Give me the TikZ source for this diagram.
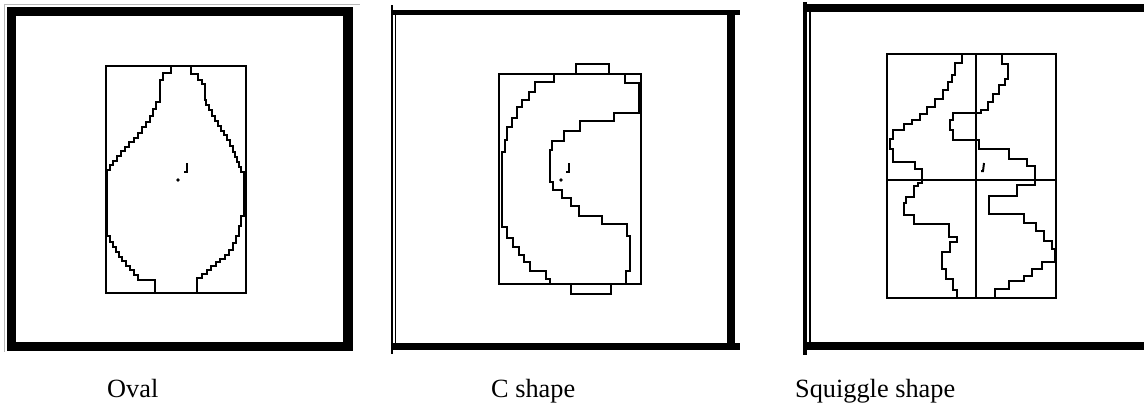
\documentclass[tikz,border=0pt]{standalone}
\usepackage{fontspec}
\setmainfont{Liberation Serif}
\begin{document}
\begin{tikzpicture}[x=1pt,y=-1pt,
  outline/.style={line width=2.6pt},
  centremark/.style={line width=2pt},
  caption/.style={anchor=base west,inner sep=0pt,font=\fontsize{26.3}{30}\selectfont}]
  \useasboundingbox (0,0) rectangle (1144,402);
  % frames
  \draw[gray!55,line width=0.8pt] (4,4) -- (360,4);
  \draw[gray!55,line width=0.8pt] (4,4) -- (4,352);
  \draw[line width=9.5pt] (11.5,11.5) rectangle (348,346.5);
  \draw[line width=5pt] (392,12.5) -- (740,12.5);
  \draw[line width=7pt] (392,346.5) -- (740,346.5);
  \draw[line width=8pt] (731,10) -- (731,350);
  \draw[line width=1.5pt] (392,5) -- (392,354);
  \draw[line width=1.5pt] (395.5,10) -- (395.5,350);
  \draw[line width=8pt] (803,8) -- (1144,8);
  \draw[line width=8pt] (803,346) -- (1144,346);
  \draw[line width=3.5pt] (805,2) -- (805,355);
  \draw[line width=1.5pt] (810,8) -- (810,346);
  % oval
  \draw[outline] (106,66) rectangle (246,293);
  \draw[outline] (171,66) |- (163,73) |- (160,80) |- (156,102) |- (153,109) |- (150,116) |- (146,122)
    |- (142,127) |- (138,133) |- (134,138) |- (129,142) |- (125,147) |- (121,151) |- (117,156)
    |- (113,161) |- (110,165) |- (107,170) |- (110,236) |- (113,242) |- (116,247) |- (119,252)
    |- (122,257) |- (126,261) |- (130,266) |- (134,270) |- (138,275) |- (155,280) -- (155,293);
  \draw[outline] (191,66) |- (198,74) |- (202,80) |- (205,84) |- (206,100) |- (209,105) |- (212,110)
    |- (215,116) |- (218,121) |- (221,126) |- (224,131) |- (227,135) |- (230,140) |- (233,146)
    |- (235,152) |- (237,157) |- (239,162) |- (241,167) |- (244,172) |- (241,216) |- (239,226)
    |- (236,236) |- (233,243) |- (229,250) |- (225,255) |- (220,259) |- (216,262) |- (211,266)
    |- (207,270) |- (202,274) |- (197,278) -- (197,293);
  \draw[centremark] (187,163) -- (187,172) -- (184,172);
  \fill (178,180) circle (1.8);
  % C shape
  \draw[outline] (499,74) rectangle (641,284);
  \draw[outline] (554,74) -- (576,74) -- (576,64) -- (609,64) -- (609,74) -- (625,74) |- (639,83)
    |- (614,113) |- (580,121) |- (564,131) |- (552,141) |- (550,150) |- (553,182) |- (562,190)
    |- (571,198) |- (579,206) |- (602,216) |- (627,224) |- (630,236) |- (626,271) -- (626,284)
    -- (611,284) -- (611,294) -- (571,294) -- (571,284) -- (550,284) |- (546,279) |- (530,271)
    |- (524,262) |- (519,255) |- (513,247) |- (507,238) |- (502,227) |- (505,152) |- (507,140)
    |- (512,127) |- (517,118) |- (522,107) |- (529,100) |- (535,92) |- (554,82) -- cycle;
  \draw[centremark] (569,163) -- (569,172) -- (566,172);
  \fill (561,180) circle (1.8);
  % squiggle
  \draw[outline] (887,54) rectangle (1056,298);
  \draw[outline] (976,54) -- (976,298);
  \draw[outline] (887,180) -- (1056,180);
  \draw[outline] (962,55) |- (955,63) |- (952,75) |- (948,82) |- (943,90) |- (935,99) |- (927,107)
    |- (920,114) |- (912,120) |- (904,124) |- (893,130) |- (890,139) |- (893,149) |- (915,162)
    |- (922,169) |- (918,183) |- (914,186) |- (906,197) |- (904,203) |- (914,215) |- (949,224)
    |- (957,237) |- (950,242) |- (942,252) |- (946,269) |- (953,279) |- (957,290) -- (957,298);
  \draw[outline] (1002,55) |- (1008,64) |- (1005,79) |- (999,85) |- (993,94) |- (988,102) |- (981,110)
    |- (953,113) |- (950,120) |- (953,130) |- (979,140) |- (1009,149) |- (1027,159) |- (1035,166)
    |- (1017,185) |- (989,196) |- (1024,214) |- (1036,223) |- (1044,231) |- (1052,241) |- (1055,249)
    |- (1042,262) |- (1032,269) |- (1024,276) |- (1009,281) |- (995,289) -- (995,298);
  \draw[centremark] (984,163) -- (983,171) -- (981,171);
  % captions
  \node[caption] (oval) at (107,397) {Oval};
  \node[caption] (cshape) at (491,397) {C shape};
  \node[caption] (squiggle) at (795,397) {Squiggle shape};
\end{tikzpicture}
\end{document}
